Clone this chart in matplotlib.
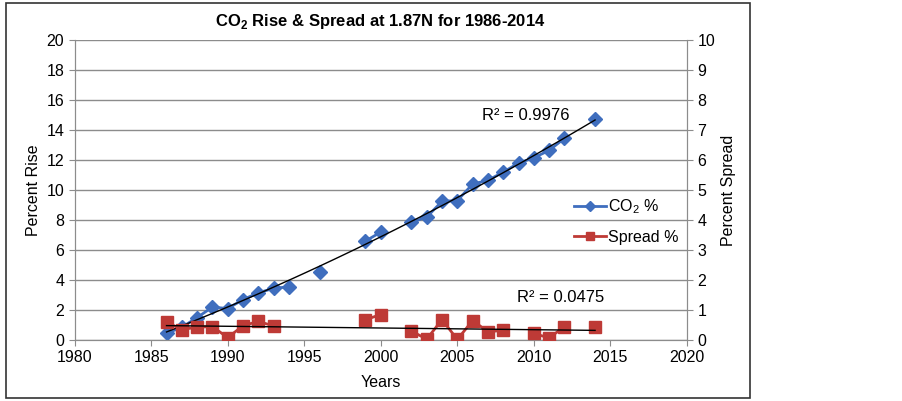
import matplotlib.pyplot as plt
from matplotlib.patches import Rectangle
import numpy as np

plt.rcParams['font.family'] = ['Liberation Sans', 'DejaVu Sans']
plt.rcParams['mathtext.fontset'] = 'custom'
plt.rcParams['mathtext.rm'] = 'Liberation Sans'
plt.rcParams['mathtext.bf'] = 'Liberation Sans:bold'

nan = np.nan
years = list(range(1986, 2015))

# CO2 rise (left axis), blank years left empty
co2_pct = [0.45, 0.85, 1.5, 2.2, 2.1, 2.7, 3.15, 3.45, 3.55, nan, 4.55, nan, nan, 6.6,
           7.2, nan, 7.85, 8.2, 9.25, 9.3, 10.4, 10.65, 11.2, 11.8, 12.15, 12.65,
           13.45, nan, 14.75]

# Spread (right axis)
spread_pct = [0.6, 0.35, 0.43, 0.45, 0.08, 0.48, 0.62, 0.47, nan, nan, nan, nan, nan,
              0.68, 0.85, nan, 0.3, 0.03, 0.68, 0.02, 0.65, 0.28, 0.32, nan, 0.22,
              0.07, 0.45, nan, 0.43]

blue = '#3F6EBE'
red = '#BE3A36'

fig = plt.figure(figsize=(9.03, 4.01), dpi=100)
fig.patches.append(Rectangle((0.007, 0.007), 0.824, 0.986, transform=fig.transFigure,
                             fill=False, edgecolor='#333333', linewidth=1.2))

ax = fig.add_axes([0.0827, 0.152, 0.678, 0.748])
ax2 = ax.twinx()

ax.plot(years, co2_pct, color=blue, marker='D', markersize=7, linewidth=2,
        label=r'CO$_\mathrm{2}$ %', zorder=3)
ax2.plot(years, spread_pct, color=red, marker='s', markersize=8, linewidth=2,
         label='Spread %', zorder=3)

# trendlines: polynomial for CO2, linear for spread
yr = np.array(years, dtype=float)
co2 = np.array(co2_pct)
sp = np.array(spread_pct)
m1 = ~np.isnan(co2)
c1 = np.polyfit(yr[m1], co2[m1], 2)
xs = np.linspace(yr[m1][0], yr[m1][-1], 100)
ax.plot(xs, np.polyval(c1, xs), color='black', linewidth=1, zorder=4)
m2 = ~np.isnan(sp)
c2 = np.polyfit(yr[m2], sp[m2], 1)
xs2 = np.linspace(yr[m2][0], yr[m2][-1], 10)
ax2.plot(xs2, np.polyval(c2, xs2), color='black', linewidth=1, zorder=4)

ax.text(2006.6, 14.95, 'R² = 0.9976', fontsize=12, va='center')
ax2.text(2008.9, 1.43, 'R² = 0.0475', fontsize=12, va='center')

ax.set_xlim(1980, 2020)
ax.set_ylim(0, 20)
ax2.set_ylim(0, 10)
ax.set_xticks(range(1980, 2021, 5))
ax.set_yticks(range(0, 21, 2))
ax2.set_yticks(range(0, 11, 1))
ax.grid(axis='y', color='#8c8c8c', linewidth=1)
ax.set_axisbelow(True)

for a in (ax, ax2):
    for s in a.spines.values():
        s.set_color('#8c8c8c')
    a.spines['top'].set_visible(False)
    a.tick_params(colors='#8c8c8c', labelcolor='black', labelsize=11.5, length=4)

ax.set_xlabel('Years', fontsize=11.5, labelpad=7)
ax.set_ylabel('Percent Rise', fontsize=11.5)
ax2.set_ylabel('Percent Spread', fontsize=11.5)
ax.set_title(r'CO$_\mathbf{2}$ Rise & Spread at 1.87N for 1986-2014', fontsize=12,
             fontweight='bold', pad=10)

h1, l1 = ax.get_legend_handles_labels()
h2, l2 = ax2.get_legend_handles_labels()
ax2.legend(h1 + h2, l1 + l2, loc='center left', bbox_to_anchor=(0.803, 0.397),
           frameon=False, fontsize=11.5, handlelength=2, handletextpad=0.1,
           labelspacing=0.85, borderpad=0, markerscale=0.8)

fig.savefig('out.png', dpi=100)
